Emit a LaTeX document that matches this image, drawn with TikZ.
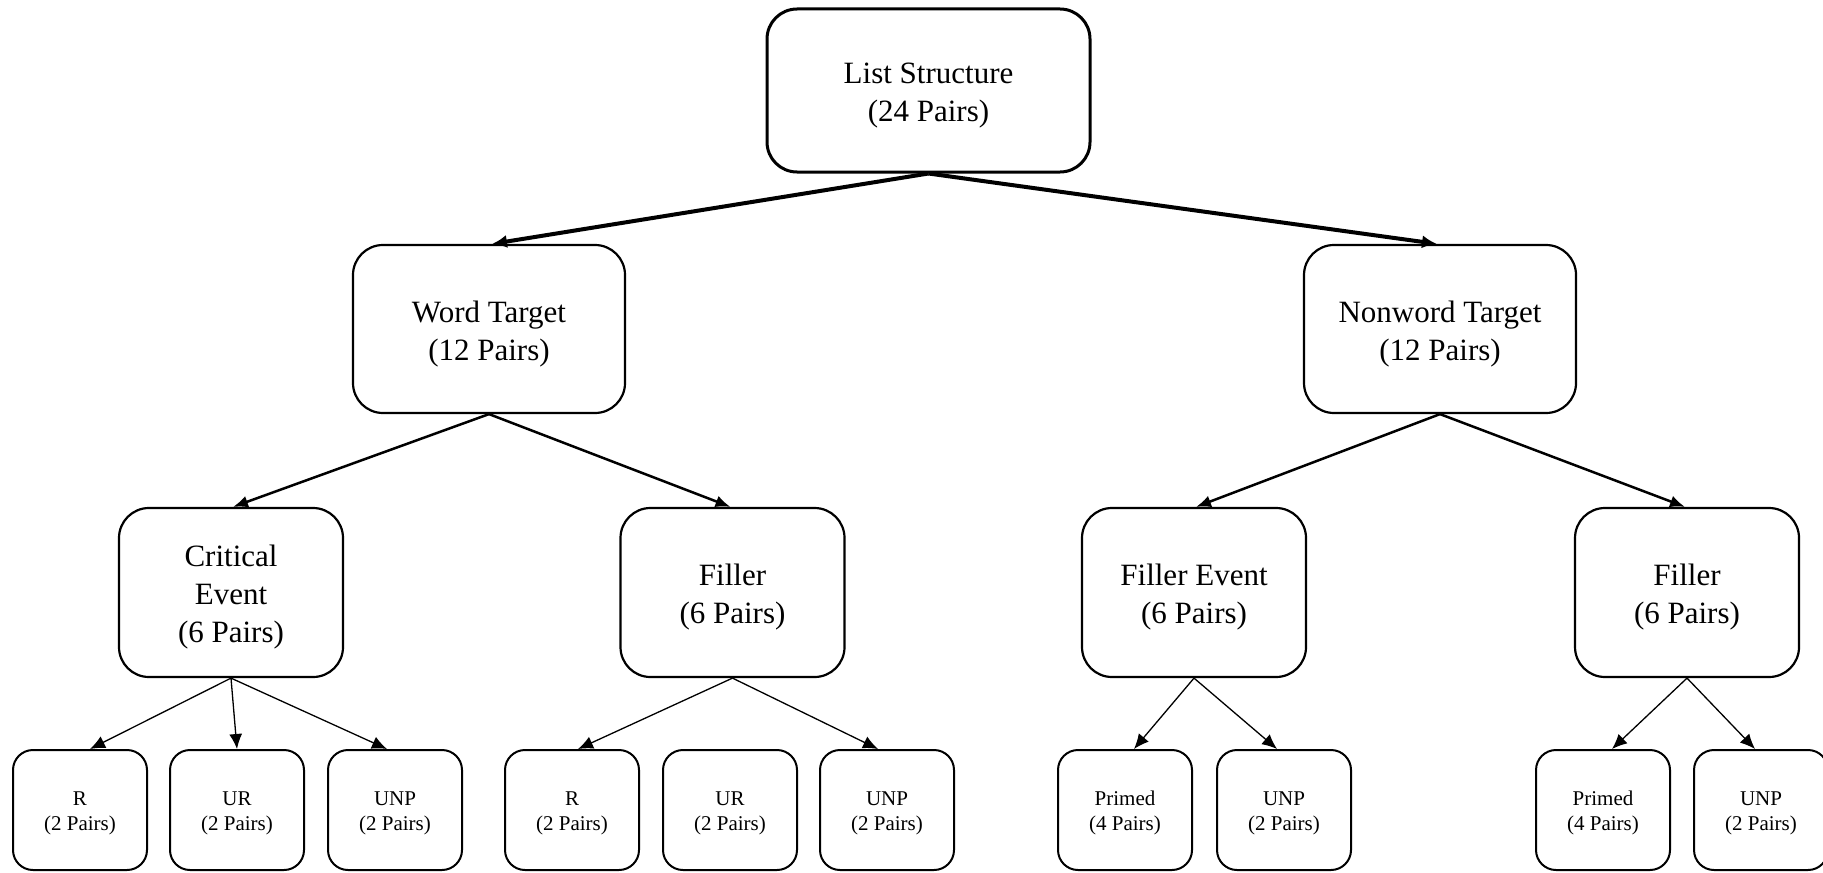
\documentclass[tikz,border=0pt]{standalone}
\usepackage{fontspec}
\setmainfont{Liberation Serif}
\usetikzlibrary{arrows.meta}
\tikzset{
  tshift/.style={execute at begin node={\rule{0pt}{#1}}},
  topbox/.style={draw, line width=1.5pt, rounded corners=15pt, align=center, inner sep=0pt,
    minimum width=161.5pt, minimum height=81.5pt, font=\fontsize{15.5}{19}\selectfont,
    tshift=34.6pt},
  midbox/.style={draw, line width=1.1pt, rounded corners=15pt, align=center, inner sep=0pt,
    minimum width=136pt, minimum height=84pt, font=\fontsize{15.5}{19}\selectfont,
    tshift=34.6pt},
  lowbox/.style={draw, line width=1.1pt, rounded corners=15pt, align=center, inner sep=0pt,
    minimum width=112pt, minimum height=84.5pt, font=\fontsize{15.5}{19}\selectfont,
    tshift=34.6pt},
  leafbox/.style={draw, line width=1pt, rounded corners=10pt, align=center, inner sep=0pt,
    minimum width=67pt, minimum height=60pt, font=\fontsize{10.5}{12.5}\selectfont,
    tshift=23pt},
  toparrow/.style={line width=2pt, -{Latex[length=7.5pt,width=6.5pt]}},
  midarrow/.style={line width=1.25pt, -{Latex[length=7.5pt,width=6pt]}},
  leafarrow/.style={line width=0.65pt, -{Latex[length=7.5pt,width=6.5pt]}},
}
\begin{document}
\begin{tikzpicture}[x=0.5pt,y=-0.5pt]
\useasboundingbox (0,0) rectangle (1823,872);
\clip (0,0) rectangle (1823,872);
\node[topbox] (top) at (928.5,90.5) {List Structure\\(24 Pairs)};
\node[midbox] (wt) at (489,329) {Word Target\\(12 Pairs)};
\node[midbox] (nt) at (1440,329) {Nonword Target\\(12 Pairs)};
\node[lowbox, tshift=53.6pt] (ce) at (231,592.5) {Critical\\Event\\(6 Pairs)};
\node[lowbox] (f1) at (732.5,592.5) {Filler\\(6 Pairs)};
\node[lowbox] (fe) at (1194,592.5) {Filler Event\\(6 Pairs)};
\node[lowbox] (f2) at (1687,592.5) {Filler\\(6 Pairs)};
\node[leafbox] (r1) at (80,810) {R\\(2 Pairs)};
\node[leafbox] (ur1) at (237,810) {UR\\(2 Pairs)};
\node[leafbox] (unp1) at (395,810) {UNP\\(2 Pairs)};
\node[leafbox] (r2) at (572,810) {R\\(2 Pairs)};
\node[leafbox] (ur2) at (730,810) {UR\\(2 Pairs)};
\node[leafbox] (unp2) at (887,810) {UNP\\(2 Pairs)};
\node[leafbox] (pr1) at (1125,810) {Primed\\(4 Pairs)};
\node[leafbox] (unp3) at (1284,810) {UNP\\(2 Pairs)};
\node[leafbox] (pr2) at (1603,810) {Primed\\(4 Pairs)};
\node[leafbox] (unp4) at (1761,810) {UNP\\(2 Pairs)};
\draw[toparrow] (top.south) -- ([xshift=1.5pt]wt.north);
\draw[toparrow] (top.south) -- ([xshift=-1.5pt]nt.north);
\draw[midarrow] (wt.south) -- ([xshift=1pt]ce.north);
\draw[midarrow] (wt.south) -- ([xshift=-1pt]f1.north);
\draw[midarrow] (nt.south) -- ([xshift=1pt]fe.north);
\draw[midarrow] (nt.south) -- ([xshift=-1pt]f2.north);
\draw[leafarrow] (ce.south) -- ([xshift=5pt]r1.north);
\draw[leafarrow] (ce.south) -- (ur1.north);
\draw[leafarrow] (ce.south) -- ([xshift=-4pt]unp1.north);
\draw[leafarrow] (f1.south) -- ([xshift=3pt]r2.north);
\draw[leafarrow] (f1.south) -- ([xshift=-4.5pt]unp2.north);
\draw[leafarrow] (fe.south) -- ([xshift=4.5pt]pr1.north);
\draw[leafarrow] (fe.south) -- ([xshift=-3.5pt]unp3.north);
\draw[leafarrow] (f2.south) -- ([xshift=4.5pt]pr2.north);
\draw[leafarrow] (f2.south) -- ([xshift=-3pt]unp4.north);
\end{tikzpicture}
\end{document}
